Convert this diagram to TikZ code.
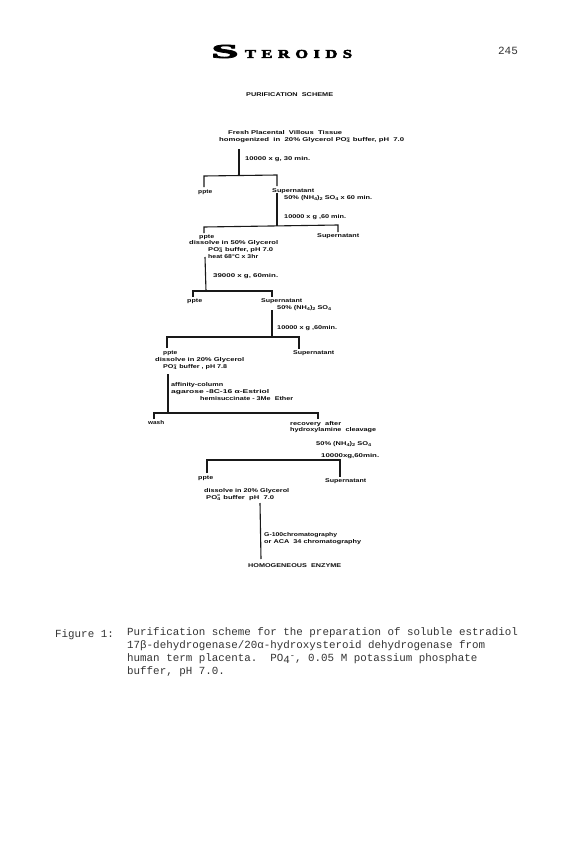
\documentclass[tikz,border=0pt]{standalone}
\usepackage{fontspec}
\usepackage{graphicx}
\setmainfont{Liberation Sans}
\newfontfamily\typed{Liberation Mono}
\newfontfamily\headfont{Liberation Serif Bold}[FakeBold=3.5]
\newcommand{\lab}[5]{\node[lbl] (#1) at (#2,#3) {\resizebox{#4pt}{\height}{#5}};}
\newcommand{\sbs}[1]{\raisebox{-1.1pt}{\scalebox{.75}{#1}}}
\newcommand{\POq}{PO\rlap{\raisebox{2.6pt}{\scalebox{.7}{=}}}\sbs{4}\hspace{.6pt}}
\tikzset{
  lbl/.style={anchor=west,inner sep=0pt,font=\fontsize{5.5}{6.5}\selectfont\bfseries,text=black!95},
  link/.style={draw=black!90,line width=1.1pt},
  caption/.style={anchor=west,inner sep=0pt,font=\typed\fontsize{10.85}{13}\selectfont,text=black!80}
}
\begin{document}
\begin{tikzpicture}[x=1pt,y=-1pt]
\useasboundingbox (0,0) rectangle (576,864);
% running head
\node[inner sep=0pt,font=\headfont] (headS) at (225,51.5) {\resizebox{27pt}{13pt}{S}};
\node[inner sep=0pt,font=\headfont] (headR) at (298.5,54) {\resizebox{107pt}{8pt}{T\,\,E\,\,R\,\,O\,\,I\,\,D\,\,S}};
\node[inner sep=0pt,font=\typed\fontsize{11}{13}\selectfont,text=black!80] (page) at (508,51) {245};
% labels
\lab{title}{246}{95}{87}{PURIFICATION\ \ SCHEME}
\lab{fresh}{228}{133}{114}{Fresh Placental\ \ Villous\ \ Tissue}
\lab{homog}{219}{140}{185}{homogenized\ \ in\ \ 20\% Glycerol \POq\ buffer, pH\ \ 7.0}
\lab{spinA}{245}{159}{65}{10000 x g, 30 min.}
\lab{ppteA}{198}{192}{14}{ppte}
\lab{supA}{272}{191}{42}{Supernatant}
\lab{saltA}{284}{198}{88}{50\% (NH\sbs{4})\sbs{2} SO\sbs{4} x 60 min.}
\lab{spinB}{284}{217}{62}{10000 x g ,60 min.}
\lab{ppteB}{199}{237}{15}{ppte}
\lab{supB}{317}{236}{42}{Supernatant}
\lab{dissB}{189}{243}{89}{dissolve in 50\% Glycerol}
\lab{bufB}{208}{250}{65}{\POq\ buffer, pH 7.0}
\lab{heat}{208}{257}{50}{heat 68°C x 3hr}
\lab{spinC}{213}{276}{65}{39000 x g, 60min.}
\lab{ppteC}{187}{301}{15}{ppte}
\lab{supC}{261}{301}{41}{Supernatant}
\lab{saltC}{277}{308}{54}{50\% (NH\sbs{4})\sbs{2} SO\sbs{4}}
\lab{spinD}{277}{328}{60}{10000 x g ,60min.}
\lab{ppteD}{163}{353}{14}{ppte}
\lab{supD}{293}{353}{41}{Supernatant}
\lab{dissD}{155}{360}{89}{dissolve in 20\% Glycerol}
\lab{bufD}{163}{367}{64}{\POq\ buffer , pH 7.8}
\lab{affin}{171}{385}{52}{affinity-column}
\lab{agar}{171}{392}{98}{agarose -8C-16 α-Estriol}
\lab{hemi}{200}{398.5}{93}{hemisuccinate - 3Me\ \ Ether}
\lab{wash}{148}{423}{16}{wash}
\lab{recov}{290}{424}{51}{recovery\ \ after}
\lab{hydrox}{290}{430.5}{86}{hydroxylamine\ \ cleavage}
\lab{saltE}{316}{444}{55}{50\% (NH\sbs{4})\sbs{2} SO\sbs{4}}
\lab{spinE}{321}{456}{58}{10000xg,60min.}
\lab{ppteE}{198}{478}{15}{ppte}
\lab{supE}{325}{481}{41}{Supernatant}
\lab{dissE}{204}{491}{85}{dissolve in 20\% Glycerol}
\lab{bufE}{206}{497.5}{68}{\POq\ buffer\ \ pH\ \ 7.0}
\lab{gel}{264}{535}{73}{G-100chromatography}
\lab{aca}{264}{542}{97}{or ACA\ \ 34 chromatography}
\lab{enz}{248}{566}{93}{HOMOGENEOUS\ \ ENZYME}
% connector end points
\coordinate (a0) at (239,149); \coordinate (aJ) at (239,175);
\coordinate (aL) at (204,176); \coordinate (aLe) at (204,187);
\coordinate (aR) at (277,175); \coordinate (aRe) at (277,186);
\coordinate (b0) at (277,193); \coordinate (bJ) at (277,226);
\coordinate (bL) at (204,227); \coordinate (bLe) at (204,233);
\coordinate (bR) at (338,225); \coordinate (bRe) at (338,232);
\coordinate (c0) at (205,257); \coordinate (cJ) at (206,291);
\coordinate (cL) at (193,291); \coordinate (cLe) at (193,297);
\coordinate (cR) at (272,291); \coordinate (cRe) at (272,297);
\coordinate (d0) at (272,310); \coordinate (dJ) at (272,337);
\coordinate (dL) at (167,337); \coordinate (dLe) at (167,348);
\coordinate (dR) at (299,337); \coordinate (dRe) at (299,349);
\coordinate (e0) at (168,374); \coordinate (eJ) at (168,413);
\coordinate (eL) at (154,413); \coordinate (eLe) at (154,419);
\coordinate (eR) at (318,413); \coordinate (eRe) at (318,419);
\coordinate (fL) at (207,460); \coordinate (fLe) at (207,473);
\coordinate (fR) at (340,460); \coordinate (fRe) at (340,477);
\coordinate (g0) at (260,503); \coordinate (g1) at (261,559);
% connectors
\draw[link] (a0) -- (aJ);
\draw[link] (aLe) -- (aL) -- (aR) -- (aRe);
\draw[link] (b0) -- (bJ);
\draw[link] (bLe) -- (bL) -- (bR) -- (bRe);
\draw[link] (c0) -- (cJ);
\draw[link] (cLe) -- (cL) -- (cR) -- (cRe);
\draw[link] (d0) -- (dJ);
\draw[link] (dLe) -- (dL) -- (dR) -- (dRe);
\draw[link] (e0) -- (eJ);
\draw[link] (eLe) -- (eL) -- (eR) -- (eRe);
\draw[link] (fLe) -- (fL) -- (fR) -- (fRe);
\draw[link] (g0) -- (g1);
% caption
\node[caption] (figno) at (55,635) {Figure 1:};
\node[caption] (capA) at (127,633) {Purification scheme for the preparation of soluble estradiol};
\node[caption] (capB) at (127,646) {17β-dehydrogenase/20α-hydroxysteroid dehydrogenase from};
\node[caption] (capC) at (127,659) {human term placenta.\ \ PO\raisebox{-2pt}{4}\raisebox{3pt}{\scalebox{.8}{-}}, 0.05 M potassium phosphate};
\node[caption] (capD) at (127,672) {buffer, pH 7.0.};
\end{tikzpicture}
\end{document}
